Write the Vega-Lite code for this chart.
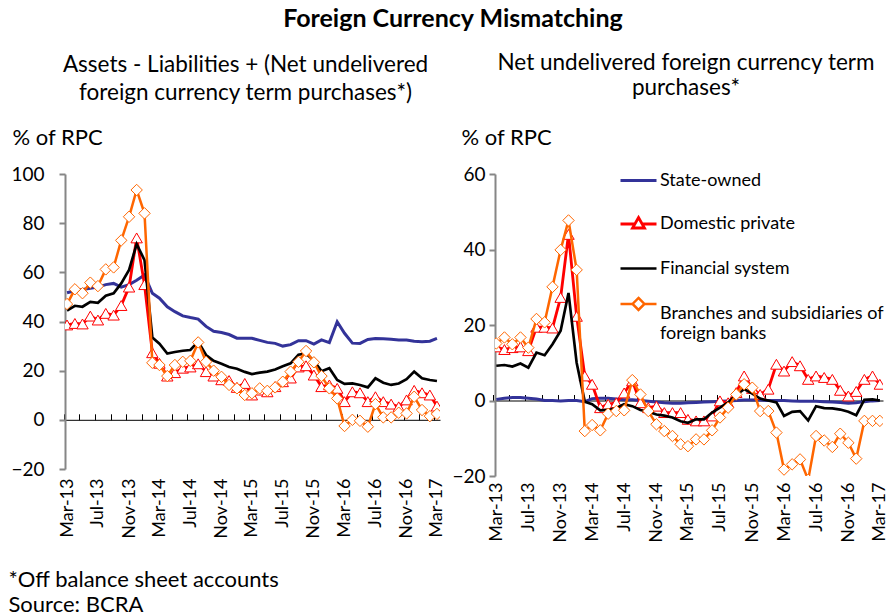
{
  "$schema": "https://vega.github.io/schema/vega-lite/v6.json",
  "background": "white",
  "padding": {"left": 8, "top": 6, "right": 0, "bottom": 2},
  "config": {
    "font": "Lato",
    "view": {"stroke": null},
    "axis": {"labelFont": "Lato", "labelFontSize": 19, "labelColor": "black", "titleFont": "Lato", "titleFontWeight": "normal", "titleFontSize": 22, "titleColor": "black", "grid": false},
    "title": {"font": "Lato", "fontSize": 22.5, "fontWeight": "normal", "color": "black"},
    "legend": {"labelFont": "Lato", "labelFontSize": 18, "labelColor": "black"}
  },
  "title": {"text": "Foreign Currency Mismatching", "fontWeight": "bold", "fontSize": 25, "anchor": "middle", "offset": 20},
  "datasets": {
    "left": [
      {"d":"2013-03-01","so":51.7,"dp":38.6,"fs":44.4,"bf":47.1},
      {"d":"2013-04-01","so":52.5,"dp":39.2,"fs":46.4,"bf":53.1},
      {"d":"2013-05-01","so":53,"dp":39,"fs":46,"bf":51.5},
      {"d":"2013-06-01","so":53.5,"dp":42.2,"fs":48,"bf":55.8},
      {"d":"2013-07-01","so":54,"dp":40.6,"fs":47.6,"bf":54.4},
      {"d":"2013-08-01","so":55,"dp":43.3,"fs":50.5,"bf":61.2},
      {"d":"2013-09-01","so":55.5,"dp":42.6,"fs":51.5,"bf":62},
      {"d":"2013-10-01","so":54,"dp":46.5,"fs":55.5,"bf":73},
      {"d":"2013-11-01","so":55,"dp":54,"fs":61,"bf":82.6},
      {"d":"2013-12-01","so":56.8,"dp":74,"fs":71.5,"bf":93.5},
      {"d":"2014-01-01","so":58.9,"dp":55,"fs":65,"bf":84},
      {"d":"2014-02-01","so":51.5,"dp":27.3,"fs":33.5,"bf":23.2},
      {"d":"2014-03-01","so":49.5,"dp":23,"fs":31,"bf":22.3},
      {"d":"2014-04-01","so":46,"dp":17.8,"fs":27,"bf":17.8},
      {"d":"2014-05-01","so":44,"dp":19.2,"fs":27.6,"bf":22.3},
      {"d":"2014-06-01","so":42.3,"dp":21,"fs":28.1,"bf":23.6},
      {"d":"2014-07-01","so":41.6,"dp":21.5,"fs":28.4,"bf":24},
      {"d":"2014-08-01","so":41,"dp":22.8,"fs":31.8,"bf":31.5},
      {"d":"2014-09-01","so":38,"dp":19.6,"fs":26.4,"bf":23.6},
      {"d":"2014-10-01","so":36,"dp":17.8,"fs":24,"bf":20},
      {"d":"2014-11-01","so":35.5,"dp":16.3,"fs":22.8,"bf":17.5},
      {"d":"2014-12-01","so":34.7,"dp":16,"fs":21.5,"bf":14.2},
      {"d":"2015-01-01","so":33.2,"dp":13.2,"fs":20.8,"bf":12.8},
      {"d":"2015-02-01","so":33.2,"dp":14.8,"fs":19.5,"bf":10.1},
      {"d":"2015-03-01","so":33.2,"dp":10.1,"fs":18.6,"bf":10.8},
      {"d":"2015-04-01","so":32.3,"dp":12.1,"fs":19.2,"bf":12.8},
      {"d":"2015-05-01","so":31.5,"dp":11.4,"fs":19.6,"bf":11.8},
      {"d":"2015-06-01","so":31.1,"dp":13.5,"fs":20.5,"bf":13.2},
      {"d":"2015-07-01","so":30,"dp":15.5,"fs":21.8,"bf":15.5},
      {"d":"2015-08-01","so":30.6,"dp":17,"fs":23,"bf":19.6},
      {"d":"2015-09-01","so":32.2,"dp":21.5,"fs":26.5,"bf":23.6},
      {"d":"2015-10-01","so":32.2,"dp":22,"fs":27,"bf":28},
      {"d":"2015-11-01","so":30.8,"dp":18.2,"fs":24,"bf":23.4},
      {"d":"2015-12-01","so":32.5,"dp":13.5,"fs":19.8,"bf":17.8},
      {"d":"2016-01-01","so":31.4,"dp":14.2,"fs":21,"bf":12.8},
      {"d":"2016-02-01","so":39.9,"dp":12.8,"fs":16.2,"bf":8.7},
      {"d":"2016-03-01","so":35.2,"dp":7.4,"fs":14.6,"bf":-2.5},
      {"d":"2016-04-01","so":31.2,"dp":11.4,"fs":14.8,"bf":0},
      {"d":"2016-05-01","so":31.1,"dp":11,"fs":14.2,"bf":-0.4},
      {"d":"2016-06-01","so":32.7,"dp":7.4,"fs":13.2,"bf":-2.8},
      {"d":"2016-07-01","so":33.1,"dp":9.4,"fs":16.9,"bf":6.4},
      {"d":"2016-08-01","so":33,"dp":7.4,"fs":15.1,"bf":1},
      {"d":"2016-09-01","so":32.8,"dp":6.4,"fs":14.2,"bf":1},
      {"d":"2016-10-01","so":32.5,"dp":5.3,"fs":14.8,"bf":2.9},
      {"d":"2016-11-01","so":32.5,"dp":8.1,"fs":16.5,"bf":2.6},
      {"d":"2016-12-01","so":32,"dp":12,"fs":19.6,"bf":9.4},
      {"d":"2017-01-01","so":31.8,"dp":11,"fs":16.9,"bf":4},
      {"d":"2017-02-01","so":32,"dp":10.1,"fs":16.2,"bf":1.5},
      {"d":"2017-03-01","so":33.1,"dp":5.6,"fs":15.8,"bf":2.4}
    ],
    "right": [
      {"d":"2013-03-01","so":0.3,"dp":14.2,"fs":9.2,"bf":15.1},
      {"d":"2013-04-01","so":0.6,"dp":13.5,"fs":9.4,"bf":16.7},
      {"d":"2013-05-01","so":0.8,"dp":14,"fs":9,"bf":14.9},
      {"d":"2013-06-01","so":0.8,"dp":14.2,"fs":9.8,"bf":16.7},
      {"d":"2013-07-01","so":0.6,"dp":13.2,"fs":8.7,"bf":14},
      {"d":"2013-08-01","so":0.4,"dp":19.4,"fs":12.7,"bf":21.6},
      {"d":"2013-09-01","so":0,"dp":19.4,"fs":12,"bf":20.7},
      {"d":"2013-10-01","so":0,"dp":19.2,"fs":14.9,"bf":30.1},
      {"d":"2013-11-01","so":-0.1,"dp":27.3,"fs":18.5,"bf":39.9},
      {"d":"2013-12-01","so":0,"dp":44,"fs":28.5,"bf":47.7},
      {"d":"2014-01-01","so":0,"dp":22.3,"fs":10,"bf":34.6},
      {"d":"2014-02-01","so":-0.3,"dp":6.5,"fs":-0.3,"bf":-8.1},
      {"d":"2014-03-01","so":0.5,"dp":4.3,"fs":-1,"bf":-6.5},
      {"d":"2014-04-01","so":0.6,"dp":-1.9,"fs":-2.6,"bf":-7.9},
      {"d":"2014-05-01","so":0.6,"dp":-1,"fs":-2.5,"bf":-3.5},
      {"d":"2014-06-01","so":0.4,"dp":-0.6,"fs":-2,"bf":-2.8},
      {"d":"2014-07-01","so":0.2,"dp":2,"fs":-1,"bf":-2.6},
      {"d":"2014-08-01","so":0.2,"dp":5.2,"fs":-1.5,"bf":5.4},
      {"d":"2014-09-01","so":0,"dp":-0.6,"fs":-2.5,"bf":1.6},
      {"d":"2014-10-01","so":-0.2,"dp":-1.9,"fs":-3,"bf":-2.8},
      {"d":"2014-11-01","so":-0.4,"dp":-1.5,"fs":-3.7,"bf":-6.3},
      {"d":"2014-12-01","so":-0.6,"dp":-3.2,"fs":-4,"bf":-8.1},
      {"d":"2015-01-01","so":-0.7,"dp":-3.2,"fs":-4.5,"bf":-9.4},
      {"d":"2015-02-01","so":-0.7,"dp":-3.2,"fs":-5.5,"bf":-11.6},
      {"d":"2015-03-01","so":-0.6,"dp":-5,"fs":-5.9,"bf":-12.1},
      {"d":"2015-04-01","so":-0.5,"dp":-5.4,"fs":-5,"bf":-10.3},
      {"d":"2015-05-01","so":-0.4,"dp":-5.4,"fs":-5,"bf":-10.3},
      {"d":"2015-06-01","so":-0.3,"dp":-4.1,"fs":-3.2,"bf":-7.9},
      {"d":"2015-07-01","so":-0.2,"dp":-0.1,"fs":-1.9,"bf":-4.5},
      {"d":"2015-08-01","so":-0.1,"dp":-0.6,"fs":-0.5,"bf":-1.9},
      {"d":"2015-09-01","so":0,"dp":2.1,"fs":1.5,"bf":1.6},
      {"d":"2015-10-01","so":0.1,"dp":6.5,"fs":3,"bf":4.3},
      {"d":"2015-11-01","so":0.1,"dp":3.2,"fs":1.8,"bf":3.4},
      {"d":"2015-12-01","so":0.1,"dp":1.6,"fs":0.5,"bf":-2.8},
      {"d":"2016-01-01","so":0,"dp":3,"fs":0,"bf":-2.8},
      {"d":"2016-02-01","so":0,"dp":9.6,"fs":-0.5,"bf":-8.5},
      {"d":"2016-03-01","so":0,"dp":7.8,"fs":-4.1,"bf":-18.3},
      {"d":"2016-04-01","so":-0.1,"dp":10.3,"fs":-3,"bf":-16.9},
      {"d":"2016-05-01","so":-0.2,"dp":9.2,"fs":-2.8,"bf":-15.6},
      {"d":"2016-06-01","so":-0.2,"dp":5.6,"fs":-5.3,"bf":-21},
      {"d":"2016-07-01","so":-0.2,"dp":6.5,"fs":-1.5,"bf":-9.4},
      {"d":"2016-08-01","so":-0.3,"dp":6.1,"fs":-2,"bf":-10.6},
      {"d":"2016-09-01","so":-0.4,"dp":5.6,"fs":-2.1,"bf":-12.3},
      {"d":"2016-10-01","so":-0.5,"dp":2.7,"fs":-2.4,"bf":-8.8},
      {"d":"2016-11-01","so":-0.7,"dp":1.2,"fs":-3,"bf":-11.2},
      {"d":"2016-12-01","so":-0.6,"dp":2.4,"fs":-3.9,"bf":-15.4},
      {"d":"2017-01-01","so":-0.3,"dp":5.6,"fs":0.2,"bf":-5.4},
      {"d":"2017-02-01","so":-0.1,"dp":6.5,"fs":0.3,"bf":-5.4},
      {"d":"2017-03-01","so":0,"dp":4.3,"fs":0,"bf":-5.4}
    ]
  },
  "spacing": 5,
  "hconcat": [
    {
      "width": 375,
      "height": 295,
      "title": {"text": ["Assets - Liabilities + (Net undelivered", "foreign currency term purchases*)"], "lineHeight": 28, "offset": 22, "anchor": "middle", "dx": -7},
      "data": {"name": "left"},
      "transform": [{"fold": ["so", "dp", "fs", "bf"], "as": ["series", "value"]}],
      "encoding": {
        "x": {"field": "d", "type": "temporal",
          "scale": {"type": "utc", "nice": false, "domain": [{"year": 2013, "month": 2, "date": 21, "utc": true}, {"year": 2017, "month": 3, "date": 13, "utc": true}]},
          "axis": {"orient": "bottom", "tickCount": {"interval": "month", "step": 1}, "labelExpr": "(utcmonth(datum.value)+2) % 4 == 0 ? utcFormat(datum.value, '%b-%y') : ''", "labelAngle": 270, "labelFontSize": 18, "labelOverlap": false, "labelFlush": false, "labelBound": false, "ticks": false, "domain": false, "labelPadding": 9,
            "title": ["*Off balance sheet accounts", "Source: BCRA"], "titleAngle": 0, "titleAlign": "left", "titleBaseline": "alphabetic", "titleX": -57, "titleY": 117, "titleLineHeight": 25}},
        "y": {"field": "value", "type": "quantitative",
          "scale": {"domain": [-20, 100], "nice": false, "zero": false},
          "axis": {"values": [-20, 0, 20, 40, 60, 80, 100], "domainColor": "#868686", "domainWidth": 2, "tickColor": "#868686", "tickWidth": 2, "tickSize": 6, "labelPadding": 15,
            "title": "% of RPC", "titleAngle": 0, "titleAlign": "left", "titleBaseline": "alphabetic", "titleX": -53, "titleY": -30}}
      },
      "layer": [
        {"transform": [{"filter": "datum.series=='so' || datum.series=='dp'"}],
         "mark": {"type": "line", "clip": true},
         "encoding": {
           "color": {"field": "series", "type": "nominal", "scale": {"domain": ["so", "dp", "fs", "bf"], "range": ["#333399", "#FF0000", "#000000", "#FF6600"]}},
           "strokeWidth": {"field": "series", "type": "nominal", "scale": {"domain": ["so", "dp", "fs", "bf"], "range": [3, 2.5, 3, 3.5]}, "legend": null}}},
        {"transform": [{"filter": "datum.series=='dp'"}],
         "mark": {"type": "point", "shape": "triangle-up", "filled": true, "fill": "white", "stroke": "#FF0000", "strokeWidth": 1, "size": 130, "opacity": 1, "clip": true},
         "encoding": {"x": {"field": "d", "type": "temporal", "axis": null}}},
        {"transform": [{"filter": "datum.series=='fs' || datum.series=='bf'"}],
         "mark": {"type": "line", "clip": true},
         "encoding": {
           "x": {"field": "d", "type": "temporal", "axis": null},
           "color": {"field": "series", "type": "nominal"},
           "strokeWidth": {"field": "series", "type": "nominal", "legend": null}}},
        {"transform": [{"filter": "datum.series=='bf'"}],
         "mark": {"type": "point", "shape": "diamond", "filled": true, "fill": "white", "stroke": "#FF6600", "strokeWidth": 1, "size": 130, "opacity": 1, "clip": true},
         "encoding": {"x": {"field": "d", "type": "temporal", "axis": null}}},
        {"transform": [{"filter": "datum.series=='bf'"}],
         "mark": {"type": "point", "opacity": 0},
         "encoding": {"x": {"field": "d", "type": "temporal",
           "axis": {"orient": "top", "offset": -245.8, "labels": false, "ticks": true, "tickSize": 6, "tickColor": "black", "tickWidth": 1, "tickOffset": -3, "domain": true, "domainColor": "black", "domainWidth": 1, "title": null, "tickCount": {"interval": "month", "step": 2}}}}}
      ],
      "resolve": {"axis": {"x": "independent"}}
    },
    {
      "width": 388,
      "height": 302,
      "title": {"text": ["Net undelivered foreign currency term", "purchases*"], "lineHeight": 25, "offset": 27, "anchor": "middle", "dx": -3},
      "data": {"name": "right"},
      "transform": [{"fold": ["so", "dp", "fs", "bf"], "as": ["series", "value"]}],
      "encoding": {
        "x": {"field": "d", "type": "temporal",
          "scale": {"type": "utc", "nice": false, "domain": [{"year": 2013, "month": 2, "date": 24, "utc": true}, {"year": 2017, "month": 3, "date": 13, "utc": true}]},
          "axis": {"orient": "bottom", "tickCount": {"interval": "month", "step": 1}, "labelExpr": "(utcmonth(datum.value)+2) % 4 == 0 ? utcFormat(datum.value, '%b-%y') : ''", "labelAngle": 270, "labelFontSize": 18, "labelOverlap": false, "labelFlush": false, "labelBound": false, "ticks": false, "domain": false, "labelPadding": 6, "title": null}},
        "y": {"field": "value", "type": "quantitative",
          "scale": {"domain": [-20, 60], "nice": false, "zero": false},
          "axis": {"values": [-20, 0, 20, 40, 60], "domainColor": "#868686", "domainWidth": 2, "tickColor": "#868686", "tickWidth": 2, "tickSize": 6, "labelPadding": 4,
            "title": "% of RPC", "titleAngle": 0, "titleAlign": "left", "titleBaseline": "alphabetic", "titleX": -34, "titleY": -30}}
      },
      "layer": [
        {"transform": [{"filter": "datum.series=='so' || datum.series=='dp'"}],
         "mark": {"type": "line", "clip": true},
         "encoding": {
           "color": {"field": "series", "type": "nominal"},
           "strokeWidth": {"field": "series", "type": "nominal", "legend": null}}},
        {"transform": [{"filter": "datum.series=='dp'"}],
         "mark": {"type": "point", "shape": "triangle-up", "filled": true, "fill": "white", "stroke": "#FF0000", "strokeWidth": 1, "size": 130, "opacity": 1, "clip": true},
         "encoding": {"x": {"field": "d", "type": "temporal", "axis": null}}},
        {"transform": [{"filter": "datum.series=='fs' || datum.series=='bf'"}],
         "mark": {"type": "line", "clip": true},
         "encoding": {
           "x": {"field": "d", "type": "temporal", "axis": null},
           "color": {"field": "series", "type": "nominal"},
           "strokeWidth": {"field": "series", "type": "nominal", "legend": null}}},
        {"transform": [{"filter": "datum.series=='bf'"}],
         "mark": {"type": "point", "shape": "diamond", "filled": true, "fill": "white", "stroke": "#FF6600", "strokeWidth": 1, "size": 130, "opacity": 1, "clip": true},
         "encoding": {"x": {"field": "d", "type": "temporal", "axis": null}}},
        {"mark": {"type": "point", "filled": false, "opacity": 0, "size": 1296, "strokeWidth": 2},
         "encoding": {
           "x": {"field": "d", "type": "temporal",
             "axis": {"orient": "top", "offset": -226.5, "labels": false, "ticks": true, "tickSize": 6, "tickColor": "black", "tickWidth": 1, "tickOffset": -3, "domain": true, "domainColor": "black", "domainWidth": 1, "title": null, "tickCount": {"interval": "month", "step": 2}}},
           "color": {"field": "series", "type": "nominal",
             "legend": {"orient": "none", "legendX": 554, "legendY": -13, "padding": 0, "title": null, "rowPadding": 14.5, "labelOffset": 2, "labelLimit": 400, "symbolSize": 1296, "symbolStrokeWidth": 2, "symbolOpacity": 1, "symbolType": "M-1,0L1,0",
               "labelExpr": "datum.label=='so' ? 'State-owned' : datum.label=='dp' ? 'Domestic private' : datum.label=='fs' ? 'Financial system' : ['Branches and subsidiaries of', 'foreign banks']"}},
           "shape": {"field": "series", "type": "nominal",
             "scale": {"domain": ["so", "dp", "fs", "bf"], "range": ["M-1,0L1,0", "M-1,0L-0.2,0M0.2,0L1,0M0,-0.36L0.33,0.22L-0.33,0.22Z", "M-1,0.001L1,0.001", "M-1,-0.56L-0.33,-0.56M0.33,-0.56L1,-0.56M0,-0.89L0.33,-0.56L0,-0.23L-0.33,-0.56Z"]},
             "legend": {"orient": "none", "legendX": 554, "legendY": -13, "padding": 0, "title": null, "rowPadding": 14.5, "labelOffset": 2, "labelLimit": 400, "symbolSize": 1296, "symbolStrokeWidth": 2, "symbolOpacity": 1,
               "labelExpr": "datum.label=='so' ? 'State-owned' : datum.label=='dp' ? 'Domestic private' : datum.label=='fs' ? 'Financial system' : ['Branches and subsidiaries of', 'foreign banks']"}}}}
      ],
      "resolve": {"axis": {"x": "independent"}}
    }
  ]
}
